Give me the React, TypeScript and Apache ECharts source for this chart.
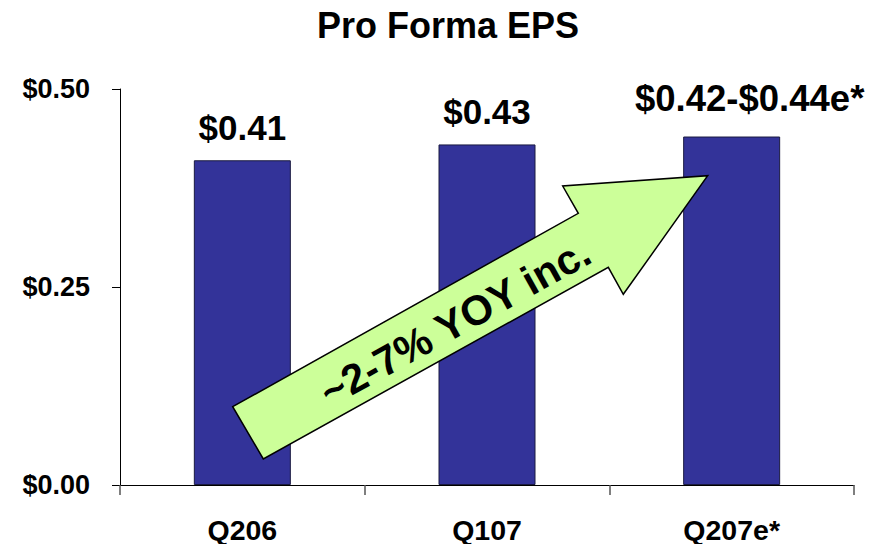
import React, { useEffect, useRef } from "react";
import * as echarts from "echarts";

const categories = ["Q206", "Q107", "Q207e*"];
const epsValues = [0.41, 0.43, 0.44];
const valueLabels = ["$0.41", "$0.43", "$0.42-$0.44e*"];
const yTickValues = [0, 0.25, 0.5];
const arrowText = "~2-7% YOY inc.";
const titleText = "Pro Forma EPS";

const FONT = "'Liberation Sans', Arial, Helvetica, sans-serif";

export default function App() {
  const ref = useRef<HTMLDivElement>(null);
  useEffect(() => {
    if (!ref.current) return;
    const chart = echarts.init(ref.current, null, { renderer: "svg" });
    const arrowPoints = [
      [232.7, 406.7],
      [578.3, 213.3],
      [562.7, 186],
      [707.7, 175.7],
      [623.3, 294.3],
      [608.3, 267.3],
      [263.3, 459],
    ];
    chart.setOption({
      animation: false,
      backgroundColor: "#ffffff",
      title: {
        text: titleText,
        left: 443,
        textAlign: "center",
        top: 2,
        textStyle: { fontFamily: FONT, fontSize: 36, fontWeight: "bold", color: "#000" },
      },
      grid: { left: 120, right: 24, top: 89, bottom: 59, containLabel: false },
      xAxis: {
        type: "category",
        data: categories,
        boundaryGap: true,
        axisLine: { lineStyle: { color: "#000", width: 1 } },
        axisTick: { show: true, length: 10, lineStyle: { color: "#555", width: 1.5 } },
        axisLabel: { margin: 30, fontFamily: FONT, fontSize: 28.5, fontWeight: "bold", color: "#000" },
      },
      yAxis: {
        type: "value",
        min: 0,
        max: 0.5,
        interval: 0.25,
        splitLine: { show: false },
        axisLine: { show: true, lineStyle: { color: "#000", width: 1 } },
        axisTick: { show: true, length: 8, lineStyle: { color: "#000" } },
        axisLabel: {
          margin: 30,
          fontFamily: FONT,
          fontSize: 27,
          fontWeight: "bold",
          color: "#000",
          formatter: (v: number) =>
            yTickValues.some((t) => Math.abs(t - v) < 1e-9) ? "$" + v.toFixed(2) : "",
        },
      },
      series: [
        {
          type: "bar",
          data: epsValues.map((v, i) => ({
            value: v,
            label: i === 2 ? { offset: [18, -5], fontSize: 36.5 } : {},
          })),
          barWidth: 97,
          itemStyle: { color: "#333399", borderColor: "#1a1a40", borderWidth: 1 },
          label: {
            show: true,
            position: "top",
            distance: 15,
            fontFamily: FONT,
            fontSize: 35,
            fontWeight: "bold",
            color: "#000",
            formatter: (p: any) => valueLabels[p.dataIndex],
          },
        },
      ],
      graphic: [
        {
          type: "polygon",
          z: 100,
          shape: { points: arrowPoints },
          style: { fill: "#CCFF99", stroke: "#000", lineWidth: 1.5 },
        },
        {
          type: "text",
          z: 101,
          x: 455,
          y: 322,
          rotation: (29 * Math.PI) / 180,
          style: {
            text: arrowText,
            fontFamily: FONT,
            fontSize: 41.5,
            fontWeight: "bold",
            fill: "#000",
            align: "center",
            verticalAlign: "middle",
          },
        },
      ],
    });
    return () => chart.dispose();
  }, []);
  return (
    <div
      ref={ref}
      style={{ position: "fixed", left: 0, top: 0, width: 878, height: 544, background: "#fff" }}
    />
  );
}
